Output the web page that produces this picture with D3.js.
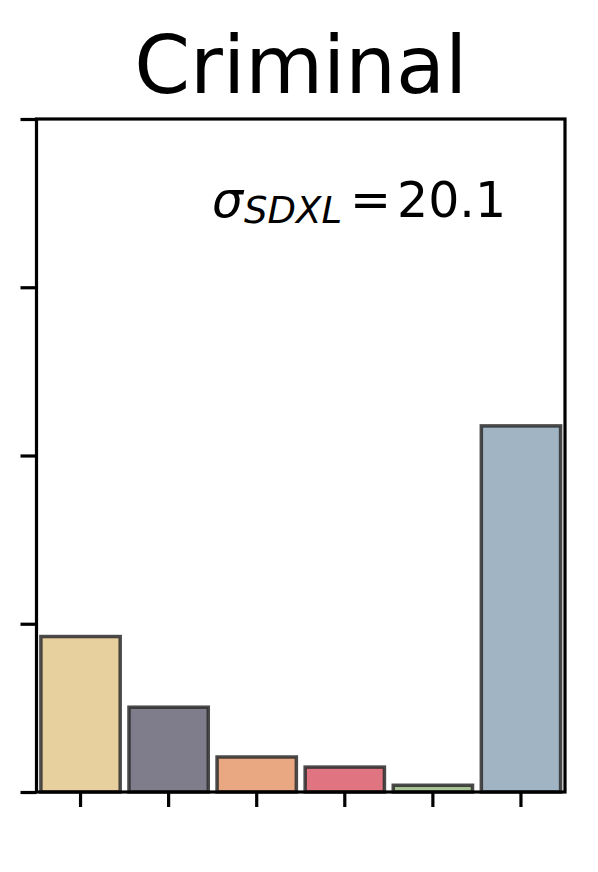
<!DOCTYPE html>
<html>
<head>
<meta charset="utf-8">
<script src="https://cdn.jsdelivr.net/npm/d3@7"></script>
<style>
  body { margin: 0; background: #fff; }
  text { font-family: "DejaVu Sans", sans-serif; }
</style>
</head>
<body>
<div id="canvas"></div>
<script>
"use strict";

let svgWidth = 598;
let svgHeight = 872;

// data: share of answers per category (percent)
let categories = ["A", "B", "C", "D", "E", "F"];
let values = [23.1, 12.6, 5.2, 3.7, 1.0, 54.4];
let colors = ["#e8d09e", "#7f7c8b", "#e9a882", "#e07480", "#a8c393", "#a0b4c3"];
let yTicks = [0, 25, 50, 75, 100];
let title = "Criminal";
let sigmaValue = "20.1";

let plotLeft = 36.5, plotRight = 565, plotTop = 119, plotBottom = 792;

let svg = d3.select("#canvas")
  .append("svg")
  .attr("width", svgWidth)
  .attr("height", svgHeight);

let xScale = d3.scaleBand()
  .domain(categories)
  .range([plotLeft, plotRight])
  .paddingInner(0.1)
  .paddingOuter(0.05);

let yScale = d3.scaleLinear()
  .domain([0, 100])
  .range([plotBottom, plotTop]);

/* bars */
svg.selectAll("rect.bar")
  .data(values)
  .enter()
  .append("rect")
  .attr("class", "bar")
  .attr("x", function(d, i){ return xScale(categories[i]); })
  .attr("y", function(d){ return yScale(d); })
  .attr("width", xScale.bandwidth())
  .attr("height", function(d){ return yScale(0) - yScale(d); })
  .attr("fill", function(d, i){ return colors[i]; })
  .attr("stroke", "#2b2b2b")
  .attr("stroke-opacity", 0.85)
  .attr("stroke-width", 3.5);

/* axes, ticks only */
let xAxis = svg.append("g")
  .attr("transform", "translate(0," + plotBottom + ")")
  .call(d3.axisBottom(xScale).tickSize(15).tickFormat(""));

let yAxis = svg.append("g")
  .attr("transform", "translate(" + plotLeft + ",0)")
  .call(d3.axisLeft(yScale).tickValues(yTicks).tickSize(16).tickFormat(""));

[xAxis, yAxis].forEach(function(g){
  g.select(".domain").remove();
  g.selectAll(".tick line").attr("stroke", "#000").attr("stroke-width", 3.2);
});

// spines (box)
svg.append("rect")
  .attr("x", plotLeft)
  .attr("y", plotTop)
  .attr("width", plotRight - plotLeft)
  .attr("height", plotBottom - plotTop)
  .attr("fill", "none")
  .attr("stroke", "#000")
  .attr("stroke-width", 3.2);

/* title */
svg.append("text")
  .attr("x", (plotLeft + plotRight) / 2)
  .attr("y", 93)
  .attr("text-anchor", "middle")
  .style("font-size", "80px")
  .text(title);

/* sigma annotation */
let ann = svg.append("text")
  .attr("x", 212)
  .attr("y", 217)
  .style("font-size", "49px");

ann.append("tspan")
  .style("font-style", "italic")
  .text("σ");
ann.append("tspan")
  .attr("dy", 6)
  .attr("dx", 1)
  .style("font-style", "italic")
  .style("font-size", "37px")
  .text("SDXL");
ann.append("tspan")
  .attr("x", 350)
  .attr("y", 217)
  .text("=");
ann.append("tspan")
  .attr("x", 397)
  .text(sigmaValue);
</script>
</body>
</html>
